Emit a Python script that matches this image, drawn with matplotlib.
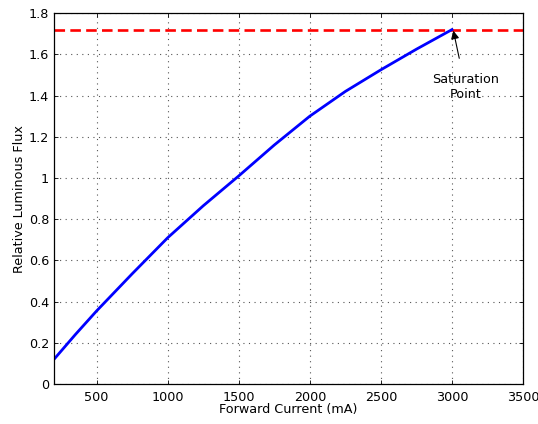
import numpy as np
import matplotlib
matplotlib.use('Agg')
import matplotlib.pyplot as plt

# data
current = [200, 350, 500, 750, 1000, 1250, 1500, 1750, 2000, 2250, 2500, 2750, 3000]
flux = [0.12, 0.24, 0.355, 0.535, 0.71, 0.865, 1.01, 1.16, 1.30, 1.42, 1.525, 1.625, 1.72]
saturation = 1.72
xticks = [500, 1000, 1500, 2000, 2500, 3000, 3500]
yticks = [0, 0.2, 0.4, 0.6, 0.8, 1, 1.2, 1.4, 1.6, 1.8]
ytick_labels = ['0', '0.2', '0.4', '0.6', '0.8', '1', '1.2', '1.4', '1.6', '1.8']

plt.rcParams['font.family'] = ['DejaVu Sans']
fs = 9.2

fig = plt.figure(figsize=(5.38, 4.24), dpi=100)
ax = fig.add_axes([0.1004, 0.0943, 0.8717, 0.8747])

ax.axhline(saturation, color='red', lw=1.9, linestyle=(0, (4, 2)))
ax.plot(current, flux, color='blue', lw=2)

ax.annotate('Saturation\nPoint', xy=(3010, 1.715), xytext=(3095, 1.44),
            ha='center', va='center', fontsize=fs,
            arrowprops=dict(arrowstyle='-|>', color='black', lw=0.8,
                            mutation_scale=12, shrinkA=9, shrinkB=0))

ax.set_xlim(200, 3500)
ax.set_ylim(0, 1.8)
ax.set_xticks(xticks)
ax.set_yticks(yticks)
ax.set_yticklabels(ytick_labels)
ax.tick_params(direction='in', top=True, right=True, labelsize=fs, length=3, width=0.6)
ax.tick_params(axis='x', pad=5)
ax.grid(True, color='#555555', linestyle=(0, (1, 4)), lw=0.8)
for s in ax.spines.values():
    s.set_linewidth(0.9)

ax.set_xlabel('Forward Current (mA)', fontsize=fs, labelpad=-1)
ax.set_ylabel('Relative Luminous Flux', fontsize=fs, labelpad=2)

plt.savefig('out.png', dpi=100)
